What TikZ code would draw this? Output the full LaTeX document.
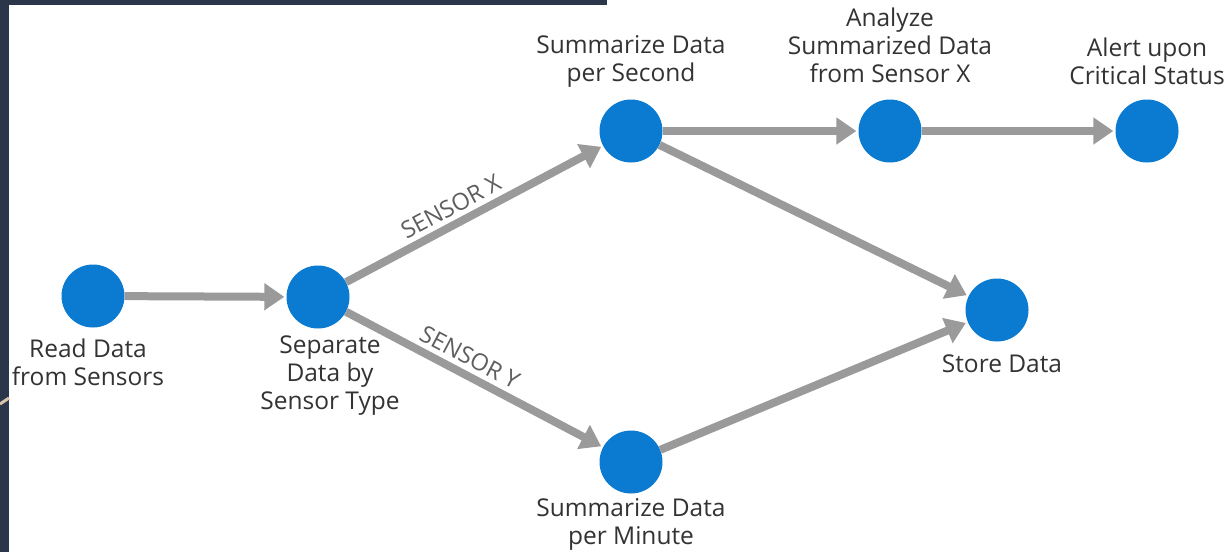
\documentclass[tikz,border=0pt]{standalone}
\usepackage{fontspec}
\setmainfont{Open Sans}
\usetikzlibrary{arrows.meta}
\definecolor{navy}{HTML}{2C364A}
\definecolor{dotblue}{HTML}{0A7BD0}
\definecolor{arrgray}{HTML}{9A9A9A}
\definecolor{txt}{HTML}{333333}
\definecolor{lblgray}{HTML}{5E5E5E}
\definecolor{tanline}{HTML}{D9C3A8}
\tikzset{
  dot/.style={circle, fill=dotblue, minimum size=63pt, inner sep=0pt},
  conn/.style={draw=arrgray, line width=8pt, -{Triangle[length=20pt,width=26pt]}, shorten >=2pt},
  txtnode/.style={align=center, text=txt, font=\fontsize{24.5}{28}\selectfont, inner sep=0pt},
  lbl/.style={text=lblgray, font=\fontsize{23.5}{26}\selectfont, sloped, inner sep=5pt}
}
\begin{document}
\begin{tikzpicture}[x=1pt,y=-1pt]
\useasboundingbox (0,0) rectangle (1231,552);
\fill[white] (0,0) rectangle (1231,552);
\fill[navy] (0,0) rectangle (9,552);
\fill[navy] (0,0) rectangle (607,5);
\draw[tanline, line width=3pt] (0,404) -- (9,398);

\node[dot] (read) at (93,296) {};
\node[dot] (sep) at (318,297) {};
\node[dot] (ss) at (631,131) {};
\node[dot] (sm) at (631,462) {};
\node[dot] (an) at (890,131) {};
\node[dot] (al) at (1147,131) {};
\node[dot] (st) at (997,310) {};

\node[txtnode] (readt) at (88,362) {Read Data\\from Sensors};
\node[txtnode] (sept) at (330,376) {Separate\\Data by\\Sensor Type};
\node[txtnode] (sst) at (631,61) {Summarize Data\\per Second};
\node[txtnode] (ant) at (890,45) {Analyze\\Summarized Data\\from Sensor X};
\node[txtnode] (alt) at (1147,61) {Alert upon\\Critical Status};
\node[txtnode] (stt) at (1002,364) {Store Data};
\node[txtnode] (smt) at (631,524) {Summarize Data\\per Minute};

\draw[conn] (read) -- (sep);
\draw[conn] (sep) -- node[lbl, pos=0.44, above] (lx) {SENSOR X} (ss);
\draw[conn] (sep) -- node[lbl, pos=0.45, above] (ly) {SENSOR Y} (sm);
\draw[conn] (ss) -- (an);
\draw[conn] (an) -- (al);
\draw[conn] (ss) -- (st);
\draw[conn] (sm) -- (st);
\end{tikzpicture}
\end{document}
